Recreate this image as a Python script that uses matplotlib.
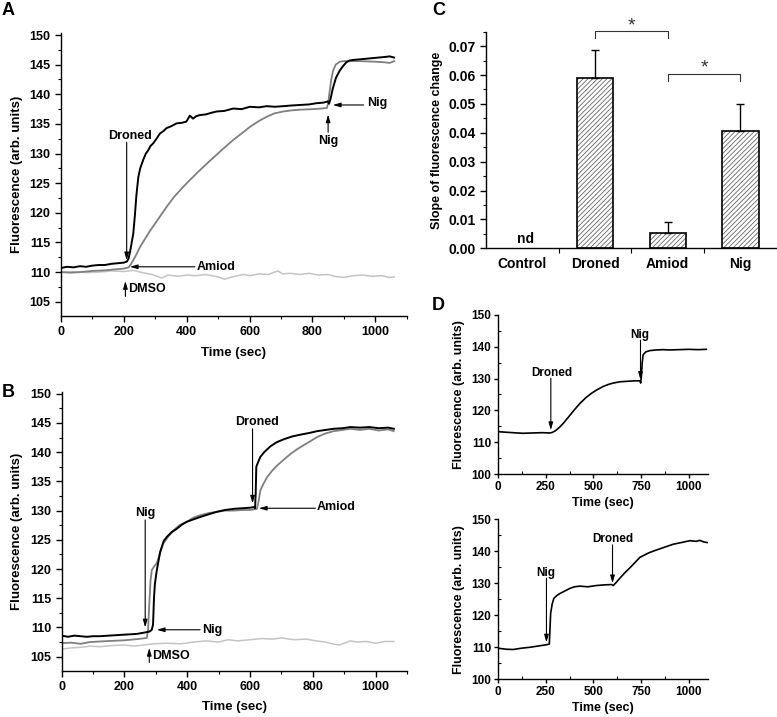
import matplotlib
matplotlib.use("Agg")
import matplotlib.pyplot as plt
from matplotlib.ticker import MultipleLocator, FixedLocator

plt.rcParams['font.family'] = ['Liberation Sans', 'DejaVu Sans']
plt.rcParams['font.weight'] = 'bold'
plt.rcParams['axes.labelweight'] = 'bold'
plt.rcParams['axes.linewidth'] = 1.0
plt.rcParams['hatch.linewidth'] = 0.6

# ---------------- Panel A data ----------------
a_droned_t = [0, 20, 40, 60, 80, 100, 120, 140, 160, 180, 200, 210, 215, 220, 225, 230, 235, 240, 246, 252,
              262, 270, 278, 285, 293, 305, 315, 326, 336, 350, 368, 385, 399, 410, 420, 430, 442, 460, 480, 495,
              520, 548, 575, 601, 630, 654, 680, 707, 730, 760, 790, 813, 835, 850, 853, 858, 865, 875, 887, 898,
              908, 918, 929, 950, 971, 990, 1010, 1030, 1046, 1060]
a_droned_y = [110.7, 110.9, 110.8, 111.0, 110.9, 111.1, 111.2, 111.2, 111.4, 111.5, 111.6, 111.8, 112.3, 113.5, 115.0, 116.5, 119.5, 123.0, 126.0, 127.5,
              129.0, 130.0, 130.6, 131.3, 131.7, 132.6, 133.4, 133.8, 134.3, 134.6, 135.1, 135.2, 135.4, 136.4, 135.9, 136.3, 136.5, 136.6, 136.9, 137.1,
              137.2, 137.6, 137.5, 137.9, 137.8, 138.0, 137.9, 138.0, 138.1, 138.2, 138.3, 138.5, 138.6, 138.8, 138.4, 139.3, 141.0, 142.8, 144.0, 144.8,
              145.4, 145.7, 145.8, 145.9, 146.0, 146.1, 146.2, 146.3, 146.4, 146.2]

a_amiod_t = [0, 30, 60, 100, 140, 180, 200, 215, 222, 230, 240, 251, 265, 280, 293, 310, 336, 360, 389, 415,
             442, 470, 495, 520, 548, 575, 601, 630, 654, 680, 707, 735, 760, 800, 830, 846, 850, 855, 860, 866,
             874, 887, 900, 950, 1000, 1030, 1046, 1060]
a_amiod_y = [110.0, 109.9, 110.0, 110.2, 110.3, 110.5, 110.6, 110.8, 111.3, 112.0, 113.0, 114.2, 115.4, 116.7, 117.7, 119.0, 121.0, 122.7, 124.4, 125.8,
             127.2, 128.6, 129.8, 131.0, 132.3, 133.4, 134.5, 135.5, 136.2, 136.8, 137.1, 137.3, 137.4, 137.5, 137.6, 137.7, 138.5, 140.5, 142.5, 144.0,
             145.0, 145.5, 145.6, 145.6, 145.5, 145.4, 145.3, 145.6]

a_dmso_t = [0, 40, 80, 120, 160, 200, 230, 260, 290, 320, 340, 370, 400, 430, 460, 500, 520, 545, 580, 600,
            630, 660, 690, 705, 730, 760, 790, 820, 850, 870, 900, 930, 960, 990, 1020, 1045, 1060]
a_dmso_y = [110.0, 110.1, 109.9, 110.0, 110.2, 110.1, 110.3, 109.9, 109.6, 109.0, 109.5, 109.3, 109.5, 109.4, 109.6, 109.2, 108.8, 109.2, 109.6, 109.4,
            109.7, 109.6, 110.2, 109.7, 109.8, 109.6, 109.8, 109.5, 109.6, 109.3, 109.1, 109.4, 109.5, 109.3, 109.4, 109.1, 109.2]

# ---------------- Panel B data ----------------
b_droned_t = [0, 20, 40, 60, 80, 100, 122, 150, 180, 210, 240, 261, 280, 287, 291, 294, 297, 303, 314, 325,
              335, 350, 367, 383, 399, 420, 441, 470, 495, 520, 548, 575, 601, 612, 616, 618, 620, 625, 633, 645,
              665, 685, 707, 735, 761, 790, 814, 840, 867, 895, 920, 950, 980, 1010, 1040, 1058]
b_droned_y = [108.6, 108.4, 108.6, 108.5, 108.4, 108.5, 108.5, 108.6, 108.7, 108.8, 108.9, 109.1, 109.3, 109.6, 110.5, 115.0, 117.5, 119.8, 123.0, 124.8,
              125.5, 126.3, 126.9, 127.6, 128.1, 128.5, 128.9, 129.4, 129.8, 130.1, 130.3, 130.4, 130.5, 130.6, 130.4, 133.0, 137.5, 138.2, 139.2, 140.0,
              141.0, 141.7, 142.2, 142.7, 143.0, 143.3, 143.6, 143.8, 144.0, 144.1, 144.3, 144.2, 144.3, 144.1, 144.2, 144.0]

b_amiod_t = [0, 30, 60, 90, 122, 160, 200, 240, 271, 275, 279, 283, 287, 295, 303, 314, 324, 340, 356, 375,
             399, 420, 441, 470, 495, 520, 548, 575, 601, 622, 628, 633, 643, 654, 670, 686, 707, 729, 750, 771,
             790, 814, 840, 867, 895, 920, 950, 980, 1010, 1040, 1058]
b_amiod_y = [107.3, 107.4, 107.2, 107.5, 107.6, 107.7, 107.8, 108.0, 108.2, 109.5, 114.0, 118.0, 119.8, 120.5, 121.0, 122.8, 124.4, 125.6, 126.6, 127.5,
             128.1, 128.8, 129.2, 129.6, 129.8, 130.0, 130.0, 130.1, 130.1, 130.3, 131.8, 133.5, 134.6, 135.7, 136.8, 137.7, 138.7, 139.7, 140.5, 141.2,
             141.8, 142.6, 143.2, 143.6, 143.8, 144.0, 143.8, 144.0, 143.7, 143.9, 143.6]

b_dmso_t = [0, 30, 60, 90, 122, 160, 200, 230, 261, 290, 335, 380, 420, 460, 500, 530, 560, 600, 640, 670,
            700, 740, 780, 810, 840, 870, 885, 900, 920, 940, 970, 1000, 1030, 1058]
b_dmso_y = [106.3, 106.5, 106.6, 106.8, 106.7, 106.9, 107.0, 106.8, 107.0, 107.2, 107.3, 107.2, 107.5, 107.7, 107.5, 107.9, 107.7, 107.9, 108.1, 108.0,
            108.2, 107.9, 108.0, 107.7, 107.5, 107.1, 107.0, 107.3, 107.7, 107.5, 107.6, 107.3, 107.6, 107.6]

# ---------------- Panel C data ----------------
c_categories = ['Control', 'Droned', 'Amiod', 'Nig']
c_values = [0.0, 0.0590, 0.0053, 0.0405]
c_errors = [0.0, 0.0097, 0.0039, 0.0093]

# ---------------- Panel D data ----------------
d1_t = [0, 50, 100, 131, 180, 230, 271, 285, 300, 320, 341, 370, 400, 429, 460, 490, 516, 550, 580, 604,
        640, 691, 720, 744, 748, 752, 756, 761, 775, 796, 830, 866, 900, 950, 1000, 1050, 1093]
d1_y = [113.3, 113.1, 112.9, 112.8, 112.9, 113.0, 112.9, 113.1, 113.6, 114.6, 115.9, 118.0, 120.2, 122.2, 124.0, 125.4, 126.4, 127.5, 128.2, 128.6,
        129.0, 129.2, 129.3, 129.3, 128.6, 131.0, 135.0, 137.5, 138.4, 138.8, 139.0, 139.1, 139.0, 139.1, 139.2, 139.1, 139.2]

d2_t = [0, 40, 79, 120, 166, 210, 254, 268, 271, 275, 283, 292, 308, 324, 350, 376, 400, 429, 470, 516,
        560, 595, 604, 620, 639, 665, 691, 720, 744, 790, 831, 875, 919, 960, 1006, 1040, 1058, 1080, 1100]
d2_y = [109.7, 109.4, 109.3, 109.7, 110.0, 110.4, 110.8, 111.0, 115.0, 120.6, 123.5, 125.3, 126.2, 126.8, 127.6, 128.4, 128.9, 129.1, 128.9, 129.3,
        129.5, 129.6, 129.3, 130.3, 131.6, 133.3, 134.8, 136.6, 138.1, 139.5, 140.4, 141.3, 142.2, 142.7, 143.3, 143.1, 143.4, 142.9, 142.7]

BLACK = '#000000'
GRAY = '#7f7f7f'
LIGHT = '#c4c4c4'

fig = plt.figure(figsize=(7.77, 7.17), dpi=100)


def style_axes(ax, fs=8.5):
    ax.spines['top'].set_visible(False)
    ax.spines['right'].set_visible(False)
    ax.tick_params(which='major', direction='out', length=4, width=1, labelsize=fs)
    ax.tick_params(which='minor', direction='out', length=2.5, width=0.8)
    for lab in ax.get_xticklabels() + ax.get_yticklabels():
        lab.set_fontweight('bold')


def arrow(ax, tail, head):
    ax.annotate('', xy=head, xytext=tail,
                arrowprops=dict(arrowstyle='-|>,head_length=0.45,head_width=0.13',
                                color='black', lw=0.8, shrinkA=0, shrinkB=0))


def time_axes(ax, ylim):
    ax.set_xlim(0, 1100)
    ax.set_ylim(*ylim)
    ax.xaxis.set_major_locator(FixedLocator([0, 200, 400, 600, 800, 1000]))
    ax.xaxis.set_minor_locator(MultipleLocator(100))
    ax.yaxis.set_major_locator(FixedLocator([105, 110, 115, 120, 125, 130, 135, 140, 145, 150]))
    ax.yaxis.set_minor_locator(MultipleLocator(2.5))
    ax.set_xlabel('Time (sec)', fontsize=9.5, fontweight='bold', labelpad=6)
    ax.set_ylabel('Fluorescence (arb. units)', fontsize=9.5, fontweight='bold', labelpad=5)
    style_axes(ax, fs=9)


# ---------------- Panel A ----------------
axA = fig.add_axes([0.0785, 0.5593, 0.4449, 0.3943])
axA.plot(a_dmso_t, a_dmso_y, color=LIGHT, lw=1.1)
axA.plot(a_amiod_t, a_amiod_y, color=GRAY, lw=1.3)
axA.plot(a_droned_t, a_droned_y, color=BLACK, lw=1.4)
time_axes(axA, (102.6, 150.3))
tfs = 9
arrow(axA, (209, 131.9), (209, 112.0))
axA.text(219, 132.9, 'Droned', ha='center', va='center', fontsize=tfs, fontweight='bold')
arrow(axA, (426, 110.9), (219, 110.9))
axA.text(432, 110.9, 'Amiod', ha='left', va='center', fontsize=tfs, fontweight='bold')
arrow(axA, (205, 105.9), (205, 108.5))
axA.text(213, 107.1, 'DMSO', ha='left', va='center', fontsize=tfs, fontweight='bold')
arrow(axA, (850, 133.6), (850, 136.6))
axA.text(849, 132.2, 'Nig', ha='center', va='center', fontsize=tfs, fontweight='bold')
arrow(axA, (963, 138.2), (865, 138.2))
axA.text(975, 138.6, 'Nig', ha='left', va='center', fontsize=tfs, fontweight='bold')

# ---------------- Panel B ----------------
axB = fig.add_axes([0.0794, 0.0646, 0.4444, 0.3887])
axB.plot(b_dmso_t, b_dmso_y, color=LIGHT, lw=1.1)
axB.plot(b_amiod_t, b_amiod_y, color=GRAY, lw=1.3)
axB.plot(b_droned_t, b_droned_y, color=BLACK, lw=1.4)
time_axes(axB, (102.6, 150.3))
arrow(axB, (266, 128.4), (266, 110.0))
axB.text(266, 129.6, 'Nig', ha='center', va='center', fontsize=tfs, fontweight='bold')
arrow(axB, (441, 109.6), (303, 109.6))
axB.text(447, 109.6, 'Nig', ha='left', va='center', fontsize=tfs, fontweight='bold')
arrow(axB, (279, 104.0), (279, 106.5))
axB.text(287, 105.1, 'DMSO', ha='left', va='center', fontsize=tfs, fontweight='bold')
arrow(axB, (608, 144.0), (608, 131.2))
axB.text(622, 145.2, 'Droned', ha='center', va='center', fontsize=tfs, fontweight='bold')
arrow(axB, (808, 130.4), (628, 130.4))
axB.text(813, 130.6, 'Amiod', ha='left', va='center', fontsize=tfs, fontweight='bold')

# ---------------- Panel C ----------------
axC = fig.add_axes([0.6255, 0.6537, 0.3741, 0.3021])
xpos = list(range(len(c_categories)))
edge = ['none' if v == 0 else 'black' for v in c_values]
axC.bar(xpos, c_values, width=0.5, color='white', edgecolor='#666666', hatch='///////', linewidth=0)
axC.bar(xpos, c_values, width=0.5, fill=False, edgecolor=edge, linewidth=1.2)
for i in range(1, len(xpos)):
    axC.errorbar(xpos[i], c_values[i], yerr=[[0], [c_errors[i]]], color='black', elinewidth=1.0,
                 capsize=3, capthick=1.0, fmt='none')
axC.set_xlim(-0.5, 3.5)
axC.set_ylim(0, 0.075)
axC.yaxis.set_major_locator(FixedLocator([0, 0.01, 0.02, 0.03, 0.04, 0.05, 0.06, 0.07]))
axC.yaxis.set_minor_locator(MultipleLocator(0.005))
axC.yaxis.set_major_formatter(matplotlib.ticker.FormatStrFormatter('%.2f'))
axC.set_xticks(xpos)
axC.set_xticklabels(c_categories)
axC.xaxis.set_minor_locator(FixedLocator([0.5, 1.5, 2.5]))
style_axes(axC, fs=10)
axC.tick_params(axis='x', which='major', length=0, pad=6)
axC.tick_params(axis='x', which='minor', length=3.5)
for lab in axC.get_xticklabels():
    lab.set_fontweight('bold')
axC.set_ylabel('Slope of fluorescence change', fontsize=9, fontweight='bold', labelpad=4)
axC.text(0.05, 0.0008, 'nd', ha='center', va='bottom', fontsize=10, fontweight='bold')
# significance brackets
axC.plot([1, 1, 2, 2], [0.0727, 0.0752, 0.0752, 0.0727], color='#333333', lw=0.8, clip_on=False)
axC.text(1.5, 0.0770, '*', ha='center', va='center', fontsize=14, color='#333333', fontweight='normal')
axC.plot([2, 2, 3, 3], [0.0580, 0.0605, 0.0605, 0.0580], color='#333333', lw=0.8, clip_on=False)
axC.text(2.5, 0.0625, '*', ha='center', va='center', fontsize=14, color='#333333', fontweight='normal')


# ---------------- Panel D ----------------
def d_axes(ax):
    ax.set_xlim(0, 1100)
    ax.set_ylim(100, 150)
    ax.xaxis.set_major_locator(FixedLocator([0, 250, 500, 750, 1000]))
    ax.xaxis.set_minor_locator(MultipleLocator(125))
    ax.yaxis.set_major_locator(FixedLocator([100, 110, 120, 130, 140, 150]))
    ax.yaxis.set_minor_locator(MultipleLocator(5))
    ax.set_xlabel('Time (sec)', fontsize=9, fontweight='bold', labelpad=3)
    ax.set_ylabel('Fluorescence (arb. units)', fontsize=9, fontweight='bold', labelpad=5)
    style_axes(ax, fs=8.5)
    ax.tick_params(which='major', length=3, pad=2)
    ax.tick_params(which='minor', direction='in', length=2.5)


axD1 = fig.add_axes([0.6413, 0.3389, 0.2695, 0.2218])
axD1.plot(d1_t, d1_y, color=BLACK, lw=1.2)
d_axes(axD1)
arrow(axD1, (276, 130.1), (276, 113.8))
axD1.text(280, 131.9, 'Droned', ha='center', va='center', fontsize=8.5, fontweight='bold')
arrow(axD1, (747, 142.1), (747, 129.6))
axD1.text(744, 143.8, 'Nig', ha='center', va='center', fontsize=8.5, fontweight='bold')

axD2 = fig.add_axes([0.6413, 0.0526, 0.2695, 0.2232])
axD2.plot(d2_t, d2_y, color=BLACK, lw=1.2)
d_axes(axD2)
arrow(axD2, (253, 131.6), (253, 111.5))
axD2.text(250, 133.2, 'Nig', ha='center', va='center', fontsize=8.5, fontweight='bold')
arrow(axD2, (600, 142.0), (600, 130.0))
axD2.text(604, 143.8, 'Droned', ha='center', va='center', fontsize=8.5, fontweight='bold')

# panel letters
fig.text(0.002, 0.997, 'A', fontsize=13, fontweight='bold', ha='left', va='top')
fig.text(0.002, 0.465, 'B', fontsize=13, fontweight='bold', ha='left', va='top')
fig.text(0.556, 0.997, 'C', fontsize=13, fontweight='bold', ha='left', va='top')
fig.text(0.556, 0.586, 'D', fontsize=13, fontweight='bold', ha='left', va='top')

fig.savefig('out.png', dpi=100)
